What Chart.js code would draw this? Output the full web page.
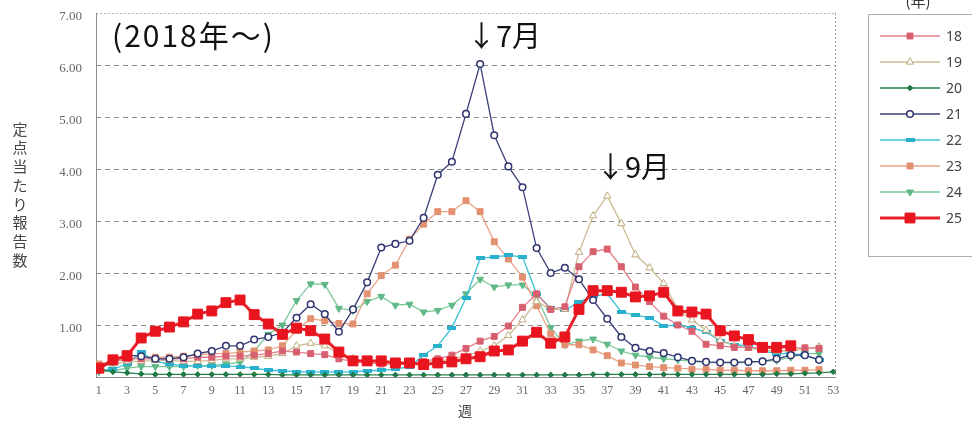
<!DOCTYPE html>
<html><head><meta charset="utf-8">
<script src="https://cdn.jsdelivr.net/npm/chart.js@4.4.1/dist/chart.umd.min.js"></script>
<style>html,body{margin:0;padding:0;background:#fff;}#wrap{width:972px;height:423px;position:relative;}</style>
</head><body><div id="wrap"><canvas id="c" width="972" height="423"></canvas></div>
<script>
const weeks = [1,2,3,4,5,6,7,8,9,10,11,12,13,14,15,16,17,18,19,20,21,22,23,24,25,26,27,28,29,30,31,32,33,34,35,36,37,38,39,40,41,42,43,44,45,46,47,48,49,50,51,52,53];
const tickWeeks = [1,3,5,7,9,11,13,15,17,19,21,23,25,27,29,31,33,35,37,39,41,43,45,47,49,51,53];
const yTicks = [1,2,3,4,5,6,7];
const seriesNames = ['18','19','20','21','22','23','24','25'];

const y18 = [0.2,0.3,0.35,0.35,0.35,0.35,0.35,0.38,0.38,0.4,0.4,0.42,0.45,0.5,0.48,0.45,0.43,0.35,0.3,0.28,0.25,0.25,0.25,0.3,0.35,0.42,0.55,0.69,0.78,0.98,1.34,1.6,1.3,1.35,2.12,2.41,2.46,2.12,1.73,1.45,1.17,1.0,0.88,0.63,0.6,0.57,0.57,0.56,0.56,0.56,0.56,0.55];
const y19 = [0.2,0.25,0.3,0.3,0.32,0.32,0.3,0.3,0.32,0.35,0.35,0.38,0.4,0.45,0.6,0.65,0.6,0.45,0.35,0.3,0.28,0.25,0.25,0.28,0.3,0.35,0.4,0.5,0.6,0.8,1.1,1.45,1.3,1.3,2.4,3.1,3.48,2.95,2.35,2.1,1.8,1.3,1.1,0.9,0.7,0.6,0.55,0.52,0.5,0.5,0.55,0.58];
const y20 = [0.15,0.1,0.08,0.06,0.05,0.05,0.05,0.05,0.05,0.05,0.05,0.05,0.05,0.04,0.04,0.04,0.04,0.04,0.04,0.04,0.04,0.04,0.04,0.04,0.04,0.04,0.04,0.04,0.04,0.04,0.04,0.04,0.04,0.04,0.04,0.05,0.05,0.05,0.05,0.05,0.05,0.05,0.05,0.05,0.05,0.05,0.05,0.05,0.06,0.06,0.07,0.08,0.1];
const y21 = [0.15,0.3,0.42,0.4,0.35,0.35,0.38,0.45,0.5,0.6,0.6,0.72,0.77,0.85,1.14,1.4,1.21,0.87,1.3,1.82,2.49,2.56,2.62,3.06,3.89,4.14,5.06,6.02,4.65,4.05,3.65,2.48,2.0,2.1,1.88,1.48,1.12,0.77,0.56,0.5,0.46,0.38,0.31,0.29,0.28,0.28,0.29,0.3,0.35,0.42,0.42,0.33];
const y22 = [0.12,0.15,0.25,0.48,0.3,0.25,0.22,0.21,0.21,0.21,0.2,0.17,0.13,0.12,0.1,0.1,0.1,0.1,0.1,0.12,0.13,0.15,0.2,0.42,0.6,0.95,1.52,2.28,2.31,2.34,2.31,1.6,1.32,1.28,1.45,1.55,1.6,1.25,1.19,1.14,0.98,1.0,0.95,0.86,0.7,0.62,0.6,0.5,0.45,0.45,0.42,0.32];
const y23 = [0.25,0.3,0.35,0.4,0.38,0.38,0.4,0.42,0.45,0.45,0.48,0.5,0.52,0.6,0.9,1.12,1.08,1.03,1.02,1.6,1.95,2.15,2.65,2.94,3.18,3.18,3.39,3.18,2.6,2.27,1.92,1.37,0.83,0.62,0.62,0.52,0.41,0.27,0.23,0.2,0.18,0.17,0.15,0.15,0.13,0.13,0.12,0.12,0.12,0.13,0.13,0.14];
const y24 = [0.1,0.12,0.17,0.2,0.2,0.2,0.2,0.22,0.22,0.25,0.28,0.5,0.82,1.0,1.47,1.79,1.78,1.32,1.28,1.45,1.55,1.38,1.4,1.25,1.28,1.38,1.6,1.88,1.73,1.77,1.77,1.55,0.95,0.62,0.69,0.73,0.63,0.5,0.42,0.38,0.35,0.33,0.3,0.28,0.27,0.27,0.28,0.3,0.32,0.38,0.45,0.45];
const y25 = [0.17,0.33,0.41,0.75,0.88,0.96,1.06,1.21,1.27,1.43,1.48,1.2,1.02,0.82,0.94,0.89,0.73,0.48,0.31,0.31,0.31,0.27,0.27,0.24,0.27,0.29,0.35,0.39,0.5,0.52,0.69,0.86,0.65,0.77,1.3,1.66,1.66,1.63,1.54,1.56,1.63,1.27,1.25,1.21,0.89,0.79,0.72,0.57,0.57,0.6];

const seriesValues = [y18,y19,y20,y21,y22,y23,y24,y25];

function dashMarker(color){
  const c=document.createElement('canvas'); c.width=9; c.height=4;
  const g=c.getContext('2d'); g.fillStyle=color; g.fillRect(0,0,9,4); return c;
}

const styles = [
  {line:'#e3808c', fill:'#d8606e', border:'#d8606e', ps:'rect', r:4.2, bw:1, rot:0, lw:1.3, order:2},
  {line:'#cdbb96', fill:'#ffffff', border:'#bfa879', ps:'triangle', r:4.2, bw:1, rot:0, lw:1.3, order:2},
  {line:'#24824b', fill:'#1f7a45', border:'#1f7a45', ps:'rectRot', r:2.8, bw:1, rot:0, lw:1.3, order:2},
  {line:'#3a3f78', fill:'#ffffff', border:'#2e3370', ps:'circle', r:3.3, bw:1.5, rot:0, lw:1.3, order:1},
  {line:'#3cc0d8', fill:'#28b0cc', border:'#28b0cc', ps:dashMarker('#28b0cc'), r:4, bw:0, rot:0, lw:1.3, order:2},
  {line:'#eba487', fill:'#e39070', border:'#e39070', ps:'rect', r:4.2, bw:1, rot:0, lw:1.3, order:2},
  {line:'#7cc99a', fill:'#5fb886', border:'#5fb886', ps:'triangle', r:4, bw:1, rot:180, lw:1.3, order:2},
  {line:'#e8202a', fill:'#e8141e', border:'#e8141e', ps:'rect', r:7, bw:1, rot:0, lw:3, order:0}
];

const datasets = seriesNames.map((name,i)=>({
  label:name,
  data: seriesValues[i].map((v,j)=>({x:weeks[j], y:v})),
  borderColor: styles[i].line,
  backgroundColor: styles[i].fill,
  pointBackgroundColor: styles[i].fill,
  pointBorderColor: styles[i].border,
  pointBorderWidth: styles[i].bw,
  pointStyle: styles[i].ps,
  pointRadius: styles[i].r,
  pointRotation: styles[i].rot,
  borderWidth: styles[i].lw,
  order: styles[i].order,
  tension: 0,
  fill: false
}));

const decor = {
  id:'decor',
  beforeDatasetsDraw(chart){
    const {ctx, chartArea:a, scales:{x,y}} = chart;
    ctx.save();
    ctx.lineWidth = 1;
    yTicks.forEach(v=>{
      const py = Math.round(y.getPixelForValue(v))+0.5;
      ctx.strokeStyle = v===7 ? '#b8b8b8' : '#8a8a8a';
      ctx.setLineDash(v===7 ? [2,2] : [5,4]);
      ctx.beginPath(); ctx.moveTo(a.left, py); ctx.lineTo(a.right, py); ctx.stroke();
    });
    ctx.strokeStyle = '#9a9a9a'; ctx.setLineDash([2,2]);
    ctx.beginPath(); ctx.moveTo(a.right-0.5, a.top); ctx.lineTo(a.right-0.5, a.bottom); ctx.stroke();
    ctx.setLineDash([]);
    ctx.strokeStyle = '#8c8c8c';
    ctx.beginPath(); ctx.moveTo(a.left+0.5, a.top); ctx.lineTo(a.left+0.5, a.bottom); ctx.stroke();
    ctx.beginPath(); ctx.moveTo(a.left, a.bottom+0.5); ctx.lineTo(a.right, a.bottom+0.5); ctx.stroke();
    ctx.restore();
  },
  afterDraw(chart){
    const ctx = chart.ctx;
    ctx.save();
    ctx.fillStyle = '#111';
    ctx.textBaseline = 'middle';
    ctx.textAlign = 'left';
    ctx.font = '30px "Noto Sans CJK JP"';
    try { ctx.letterSpacing = '2px'; } catch(e) {}
    ctx.fillText('(2018年～)', 112, 36);
    try { ctx.letterSpacing = '0px'; } catch(e) {}
    ctx.font = '29px "Noto Sans CJK JP"';
    ctx.fillText('↓7月', 467, 36);
    ctx.fillText('↓9月', 596, 167);
    ctx.fillStyle = '#444';
    ctx.font = '15px "Noto Sans CJK JP"';
    ctx.textAlign = 'center';
    const title = '定点当たり報告数';
    for (let i=0;i<title.length;i++) ctx.fillText(title[i], 20, 129 + i*18.7);
    ctx.font = '14px "Noto Sans CJK JP"';
    ctx.fillText('週', 465, 411);
    ctx.strokeStyle = '#b0b0b0'; ctx.lineWidth = 1;
    ctx.strokeRect(868.5, 14.5, 120, 242);
    ctx.fillStyle = '#333';
    ctx.font = '15px "Noto Sans CJK JP"';
    ctx.fillText('(年)', 918, 1);
    chart.data.datasets.forEach((ds,i)=>{
      const yy = 36 + i*26;
      ctx.strokeStyle = ds.borderColor; ctx.lineWidth = ds.borderWidth;
      ctx.beginPath(); ctx.moveTo(880, yy); ctx.lineTo(940, yy); ctx.stroke();
      ctx.fillStyle = ds.pointBackgroundColor; ctx.strokeStyle = ds.pointBorderColor;
      ctx.lineWidth = ds.pointBorderWidth;
      Chart.helpers.drawPoint(ctx, {pointStyle: ds.pointStyle, radius: ds.pointRadius, rotation: ds.pointRotation, borderWidth: ds.pointBorderWidth}, 910, yy);
      ctx.fillStyle = '#444'; ctx.textAlign = 'left'; ctx.font = '14px "Noto Sans", sans-serif';
      ctx.fillText(ds.label, 946, yy+1);
    });
    ctx.restore();
  }
};

new Chart(document.getElementById('c'), {
  type:'line',
  data:{ datasets },
  options:{
    responsive:false, animation:false,
    layout:{ autoPadding:false, padding:{ top:13, right:136, left:0, bottom:0 } },
    plugins:{ legend:{display:false}, tooltip:{enabled:false} },
    scales:{
      x:{ type:'linear', min:0.8, max:53.2,
        afterBuildTicks(s){ s.ticks = tickWeeks.map(v=>({value:v})); },
        afterFit(s){ s.height = 46; },
        grid:{ display:true, drawOnChartArea:false, drawTicks:true, tickLength:7, tickColor:'rgba(0,0,0,0)' }, border:{ display:false },
        ticks:{ autoSkip:false, maxRotation:0, padding:0, color:'#666', font:{family:'"Liberation Serif", serif', size:12} } },
      y:{ min:0, max:7,
        afterBuildTicks(s){ s.ticks = [0].concat(yTicks).map(v=>({value:v})); },
        afterFit(s){ s.width = 96; },
        grid:{ display:true, drawOnChartArea:false, drawTicks:true, tickLength:14, tickColor:'rgba(0,0,0,0)' }, border:{ display:false },
        ticks:{ padding:0, labelOffset:4, color:'#666', font:{family:'"Liberation Serif", serif', size:13},
          callback:(v)=> v===0 ? '' : Number(v).toFixed(2) } }
    }
  },
  plugins:[decor]
});
</script></body></html>
